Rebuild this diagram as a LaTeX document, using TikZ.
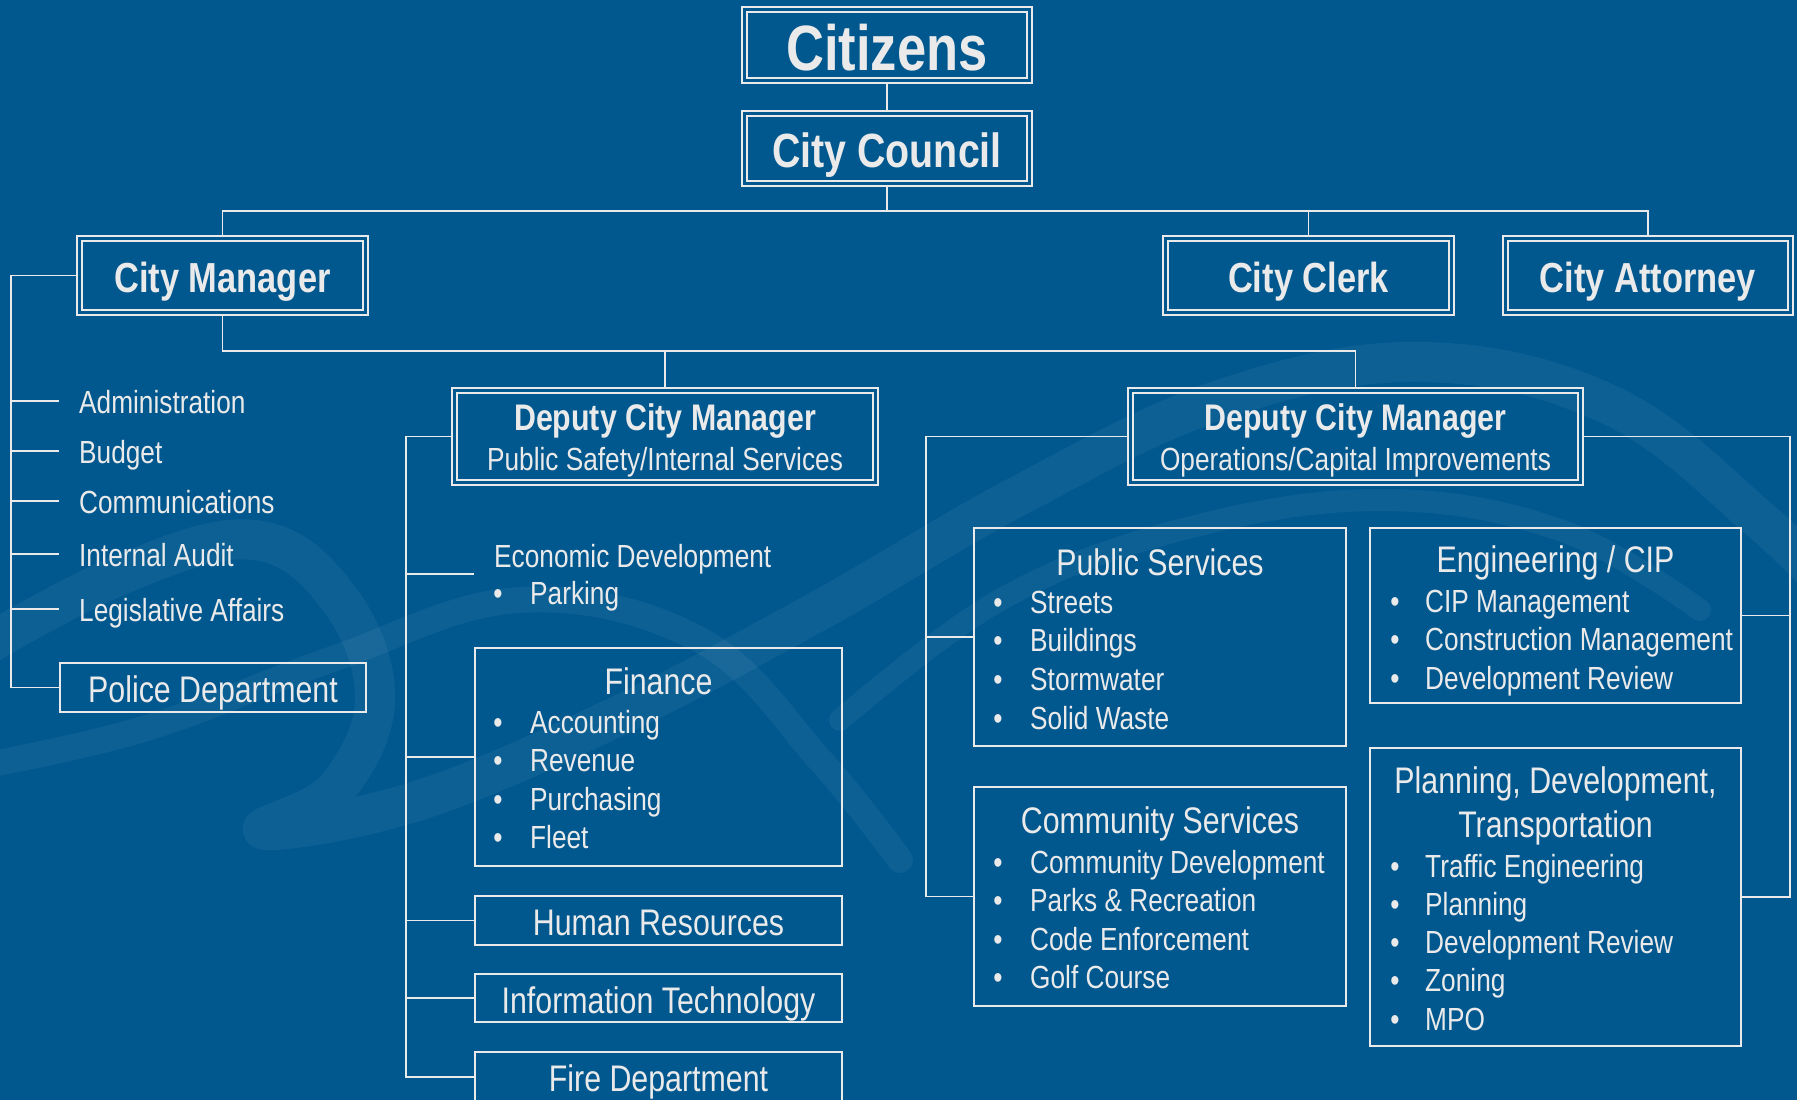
\documentclass[tikz,border=0pt]{standalone}
\usepackage{fontspec}
\setmainfont{Liberation Sans}[FakeStretch=0.82]
\usetikzlibrary{calc}

\definecolor{bgblue}{RGB}{1,88,143}
\definecolor{ink}{RGB}{234,234,234}

\pgfdeclarelayer{back}
\pgfdeclarelayer{links}
\pgfsetlayers{back,links,main}

\tikzset{
  box/.style={draw=ink, line width=1.6pt, inner sep=0pt},
  dbox/.style={box, double=bgblue, double distance=3.4pt, outer sep=3.3pt},
  sz/.style 2 args={minimum width=#1pt, minimum height=#2pt},
  link/.style={draw=ink, line width=1.6pt},
  wave/.style={draw=white, draw opacity=0.05, line cap=round, line join=round},
  txt/.style={text=ink, inner sep=0pt, anchor=base},
  citytxt/.style={txt, font=\fontsize{64}{70}\selectfont\bfseries},
  counciltxt/.style={txt, font=\fontsize{48}{54}\selectfont\bfseries},
  headtxt/.style={txt, font=\fontsize{42}{48}\selectfont\bfseries},
  deputytxt/.style={txt, font=\fontsize{37}{42}\selectfont\bfseries},
  titletxt/.style={txt, font=\fontsize{37}{42}\selectfont},
  itemtxt/.style={txt, anchor=base west, font=\fontsize{32}{38}\selectfont},
  subtxt/.style={txt, font=\fontsize{32}{38}\selectfont},
  bullet/.style={txt, font=\fontsize{32}{38}\selectfont},
}

\begin{document}
\begin{tikzpicture}[x=1pt, y=-1pt]
\useasboundingbox (0,0) rectangle (1797,1100);

% backdrop and faint ribbons
\begin{pgfonlayer}{back}
  \fill[bgblue] (0,0) rectangle (1797,1100);
  \draw[wave, line width=40pt] plot[smooth, tension=0.65] coordinates
    {(-40,660) (120,575) (255,540) (340,600) (375,700) (335,790) (265,830)
     (420,800) (620,715) (820,610) (1020,495) (1220,400) (1420,362) (1610,405) (1760,520) (1840,600)};
  \draw[wave, line width=26pt] plot[smooth, tension=0.65] coordinates
    {(-40,770) (140,730) (330,660) (520,600) (700,640) (820,760) (900,860)};
  \draw[wave, line width=22pt] plot[smooth, tension=0.65] coordinates
    {(840,720) (1000,600) (1180,530) (1380,500) (1560,530) (1700,610)};
\end{pgfonlayer}

% top of the chart
\node[dbox, sz={285.4}{71.4}] (cit) at (887,45) {};
\node[citytxt] (cit-t) at (887,70) {Citizens};
\node[dbox, sz={285.4}{70.4}] (cc) at (887,148.5) {};
\node[counciltxt] (cc-t) at (887,167) {City Council};

\node[dbox, sz={286.4}{74.4}] (cm) at (222.5,275.5) {};
\node[headtxt] (cm-t) at (222.5,292) {City Manager};
\node[dbox, sz={286.4}{74.4}] (clerk) at (1308.5,275.5) {};
\node[headtxt] (clerk-t) at (1308.5,292) {City Clerk};
\node[dbox, sz={285.4}{74.4}] (att) at (1648,275.5) {};
\node[headtxt] (att-t) at (1648,292) {City Attorney};

% deputies
\node[dbox, sz={421.4}{92.4}] (dl) at (665,436.5) {};
\node[deputytxt] (dl-t) at (665,430) {Deputy City Manager};
\node[subtxt] (dl-s) at (665,470) {Public Safety/Internal Services};
\node[dbox, sz={450.4}{92.4}] (dr) at (1355.5,436.5) {};
\node[deputytxt] (dr-t) at (1355.5,430) {Deputy City Manager};
\node[subtxt] (dr-s) at (1355.5,470) {Operations/Capital Improvements};

% city manager staff
\foreach \n/\y/\txt in {adm/413/Administration, bud/463/Budget, com/513/Communications,
                        aud/566/Internal Audit, leg/621/Legislative Affairs}
  \node[itemtxt] (\n) at (79,\y) {\txt};
\node[box, sz={306}{49}] (police) at (213,687.5) {};
\node[titletxt] (police-t) at (213,702) {Police Department};

% public safety / internal services
\node[itemtxt] (eco) at (494,567) {Economic Development};
\node[bullet] (eco-b1) at (498,604) {•};
\node[itemtxt] (eco-1) at (530,604) {Parking};

\node[box, sz={367}{218}] (fin) at (658.5,757) {};
\node[titletxt] (fin-t) at (658.5,694) {Finance};
\foreach \txt [count=\i] in {Accounting, Revenue, Purchasing, Fleet} {
  \node[bullet] (fin-b\i) at (498,{733+38.5*(\i-1)}) {•};
  \node[itemtxt] (fin-\i) at (530,{733+38.5*(\i-1)}) {\txt};
}
\node[box, sz={367}{49}] (hr) at (658.5,920.5) {};
\node[titletxt] (hr-t) at (658.5,935) {Human Resources};
\node[box, sz={367}{48}] (it) at (658.5,998) {};
\node[titletxt] (it-t) at (658.5,1013) {Information Technology};
\node[box, sz={367}{50}] (fire) at (658.5,1077) {};
\node[titletxt] (fire-t) at (658.5,1091) {Fire Department};

% operations / capital improvements
\node[box, sz={372}{218}] (ps) at (1160,637) {};
\node[titletxt] (ps-t) at (1160,575) {Public Services};
\foreach \txt [count=\i] in {Streets, Buildings, Stormwater, Solid Waste} {
  \node[bullet] (ps-b\i) at (998,{613+38.7*(\i-1)}) {•};
  \node[itemtxt] (ps-\i) at (1030,{613+38.7*(\i-1)}) {\txt};
}
\node[box, sz={372}{219}] (cs) at (1160,896.5) {};
\node[titletxt] (cs-t) at (1160,833) {Community Services};
\foreach \txt [count=\i] in {Community Development, Parks \& Recreation, Code Enforcement, Golf Course} {
  \node[bullet] (cs-b\i) at (998,{873+38.5*(\i-1)}) {•};
  \node[itemtxt] (cs-\i) at (1030,{873+38.5*(\i-1)}) {\txt};
}
\node[box, sz={371}{175}] (eng) at (1555.5,615.5) {};
\node[titletxt] (eng-t) at (1555.5,572) {Engineering / CIP};
\foreach \txt [count=\i] in {CIP Management, Construction Management, Development Review} {
  \node[bullet] (eng-b\i) at (1395,{612+38.5*(\i-1)}) {•};
  \node[itemtxt] (eng-\i) at (1425,{612+38.5*(\i-1)}) {\txt};
}
\node[box, sz={371}{298}] (plan) at (1555.5,897) {};
\node[titletxt] (plan-t1) at (1555.5,793) {Planning, Development,};
\node[titletxt] (plan-t2) at (1555.5,837) {Transportation};
\foreach \txt [count=\i] in {Traffic Engineering, Planning, Development Review, Zoning, MPO} {
  \node[bullet] (plan-b\i) at (1395,{877+38.3*(\i-1)}) {•};
  \node[itemtxt] (plan-\i) at (1425,{877+38.3*(\i-1)}) {\txt};
}

% connectors
\begin{pgfonlayer}{links}
  \coordinate (busA) at (0,211);
  \coordinate (busB) at (0,351);
  \coordinate (cmRail) at (11,0);
  \coordinate (dlRail) at (406,0);
  \coordinate (drRailL) at (926,0);
  \coordinate (drRailR) at (1790,0);

  \draw[link] (cit) -- (cc);
  \draw[link] (cc.south) -- (cc.south |- busA);
  \draw[link] (cm.north) -- (cm.north |- busA) -- (att.north |- busA) -- (att.north);
  \draw[link] (clerk.north) -- (clerk.north |- busA);

  \draw[link] (cm.south) -- (cm.south |- busB) -- (dr.north |- busB) -- (dr.north);
  \draw[link] (dl.north) -- (dl.north |- busB);

  \draw[link] (cm.west) -- (cm.west -| cmRail) -- (police.west -| cmRail) -- (police.west);
  \foreach \n/\y in {adm/401, bud/451, com/501, aud/554, leg/609} {
    \coordinate (\n-end) at (59,\y);
    \draw[link] (\n-end -| cmRail) -- (\n-end);
  }

  \draw[link] (dl.west) -- (dl.west -| dlRail) -- (fire.west -| dlRail) -- (fire.west);
  \coordinate (eco-end) at (474,574);
  \draw[link] (eco-end -| dlRail) -- (eco-end);
  \foreach \n in {fin, hr, it}
    \draw[link] (\n.west -| dlRail) -- (\n.west);

  \draw[link] (dr.west) -- (dr.west -| drRailL) -- (cs.west -| drRailL) -- (cs.west);
  \draw[link] (ps.west -| drRailL) -- (ps.west);
  \draw[link] (dr.east) -- (dr.east -| drRailR) -- (plan.east -| drRailR) -- (plan.east);
  \draw[link] (eng.east -| drRailR) -- (eng.east);
\end{pgfonlayer}
\end{tikzpicture}
\end{document}
